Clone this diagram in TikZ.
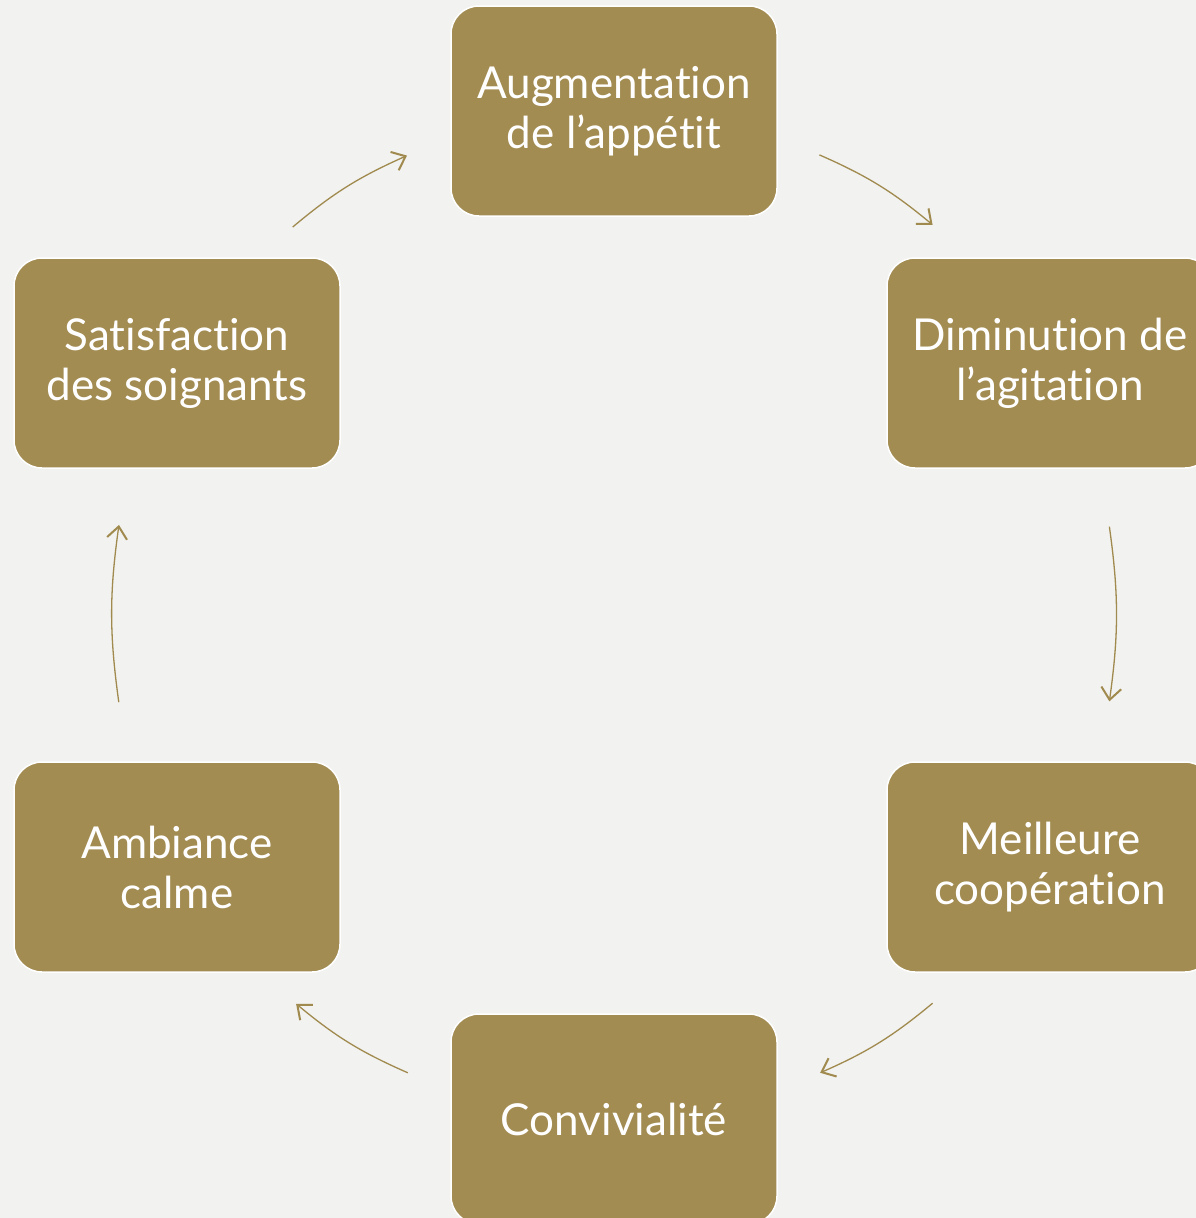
\documentclass[tikz,border=0pt]{standalone}
\usepackage{fontspec}
\setmainfont{Lato}[Ligatures=NoCommon]
\usetikzlibrary{arrows.meta,calc}
\definecolor{bg}{HTML}{F2F2F0}
\definecolor{gold}{HTML}{A38C52}
\definecolor{arrowgold}{HTML}{A08A4E}
\tikzset{
  stepbox/.style={draw=white, line width=1.5pt, fill=gold, rounded corners=28pt,
    minimum width=326pt, minimum height=210pt, text=white, align=center, inner sep=0pt,
    font=\fontsize{44}{50}\selectfont},
  cyc/.style={draw=arrowgold, line width=1.3pt, bend left=8,
    -{Straight Barb[length=12pt,width=20pt,line width=2pt]}}
}
\begin{document}
\begin{tikzpicture}[x=1pt,y=1pt]
\clip (0,0) rectangle (1196,-1218);
\fill[bg] (0,0) rectangle (1196,-1218);
\node[stepbox] (top) at (614,-111) {Augmentation\\de l’appétit};
\node[stepbox] (r1) at (1050,-363) {Diminution de\\l’agitation};
\node[stepbox] (r2) at (1050,-867) {Meilleure\\coopération};
\node[stepbox] (bot) at (614,-1119) {Convivialité};
\node[stepbox] (l2) at (177,-867) {Ambiance\\calme};
\node[stepbox] (l1) at (177,-363) {Satisfaction\\des soignants};
\coordinate (c) at (614,-614);
\coordinate (a1s) at ($(c)+(129.7:503)$);
\coordinate (a1e) at ($(c)+(114.3:503)$);
\coordinate (a2s) at ($(c)+(65.9:503)$);
\coordinate (a2e) at ($(c)+(50.7:503)$);
\coordinate (a3s) at ($(c)+(10:503)$);
\coordinate (a3e) at ($(c)+(-10:503)$);
\coordinate (a4s) at ($(c)+(-50.7:503)$);
\coordinate (a4e) at ($(c)+(-65.8:503)$);
\coordinate (a5s) at ($(c)+(-114.2:503)$);
\coordinate (a5e) at ($(c)+(-129.2:503)$);
\coordinate (a6s) at ($(c)+(190.1:503)$);
\coordinate (a6e) at ($(c)+(169.8:503)$);
\draw[cyc] (a1s) to (a1e);
\draw[cyc] (a2s) to (a2e);
\draw[cyc] (a3s) to (a3e);
\draw[cyc] (a4s) to (a4e);
\draw[cyc] (a5s) to (a5e);
\draw[cyc] (a6s) to (a6e);
\end{tikzpicture}
\end{document}
